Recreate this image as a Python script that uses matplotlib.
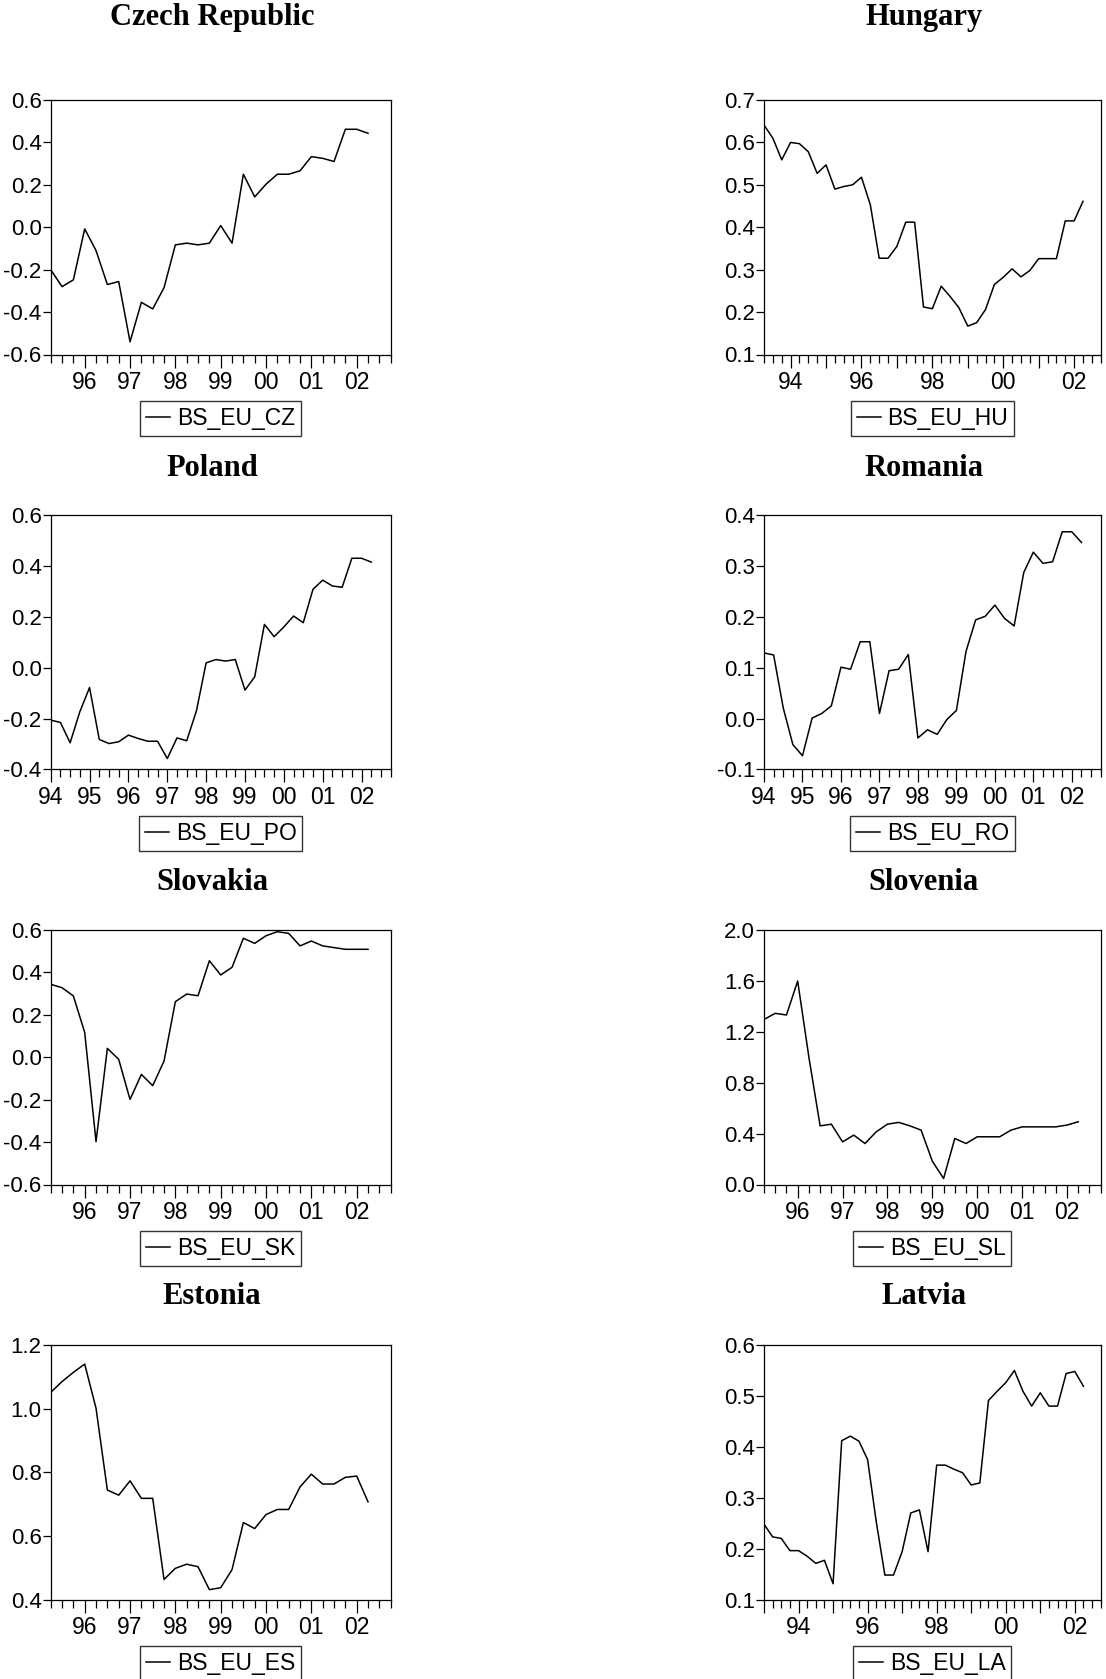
import matplotlib
matplotlib.use("Agg")
import matplotlib.pyplot as plt
import numpy as np
import pandas as pd
from matplotlib.ticker import FixedLocator, FuncFormatter

plt.rcParams['axes.unicode_minus'] = False

# quarterly series, values
cz_start = '1995Q2'
bs_eu_cz = [-0.20, -0.28, -0.248, -0.008, -0.11, -0.27, -0.256, -0.54, -0.354, -0.385,
            -0.285, -0.083, -0.075, -0.083, -0.075, 0.008, -0.075, 0.25, 0.143, 0.203,
            0.25, 0.25, 0.266, 0.333, 0.325, 0.31, 0.462, 0.462, 0.443]

hu_start = '1993Q2'
bs_eu_hu = [0.641, 0.610, 0.559, 0.600, 0.597, 0.578, 0.527, 0.547, 0.490, 0.496,
            0.500, 0.518, 0.453, 0.327, 0.327, 0.355, 0.412, 0.412, 0.212, 0.208,
            0.261, 0.237, 0.210, 0.167, 0.175, 0.206, 0.265, 0.282, 0.302, 0.283,
            0.298, 0.326, 0.326, 0.326, 0.415, 0.415, 0.461]

po_start = '1994Q1'
bs_eu_po = [-0.206, -0.215, -0.295, -0.173, -0.078, -0.282, -0.298, -0.291, -0.265, -0.278,
            -0.289, -0.289, -0.357, -0.276, -0.287, -0.170, 0.019, 0.032, 0.026, 0.032,
            -0.088, -0.036, 0.170, 0.122, 0.160, 0.203, 0.177, 0.308, 0.344, 0.321,
            0.316, 0.430, 0.430, 0.415]

ro_start = '1994Q1'
bs_eu_ro = [0.129, 0.125, 0.021, -0.051, -0.073, 0.001, 0.010, 0.025, 0.101, 0.097,
            0.151, 0.151, 0.010, 0.094, 0.097, 0.126, -0.038, -0.022, -0.031, -0.002,
            0.016, 0.132, 0.194, 0.201, 0.223, 0.197, 0.182, 0.287, 0.327, 0.305,
            0.308, 0.367, 0.367, 0.346]

sk_start = '1995Q2'
bs_eu_sk = [0.344, 0.328, 0.289, 0.117, -0.398, 0.042, -0.010, -0.199, -0.081, -0.134,
            -0.018, 0.262, 0.298, 0.290, 0.455, 0.388, 0.424, 0.561, 0.537, 0.573,
            0.592, 0.584, 0.525, 0.548, 0.525, 0.517, 0.509, 0.509, 0.509]

sl_start = '1995Q2'
bs_eu_sl = [1.297, 1.345, 1.332, 1.599, 1.00, 0.461, 0.474, 0.335, 0.388, 0.322,
            0.414, 0.474, 0.488, 0.461, 0.427, 0.183, 0.047, 0.362, 0.322, 0.375,
            0.375, 0.375, 0.427, 0.453, 0.453, 0.453, 0.453, 0.467, 0.493]

es_start = '1995Q2'
bs_eu_es = [1.051, 1.085, 1.114, 1.140, 1.001, 0.744, 0.728, 0.773, 0.718, 0.718,
            0.463, 0.498, 0.511, 0.503, 0.431, 0.437, 0.494, 0.642, 0.623, 0.667,
            0.683, 0.683, 0.754, 0.794, 0.763, 0.763, 0.784, 0.788, 0.707]

la_start = '1993Q1'
bs_eu_la = [0.248, 0.223, 0.220, 0.196, 0.196, 0.185, 0.171, 0.177, 0.131, 0.412,
            0.421, 0.411, 0.375, 0.253, 0.148, 0.148, 0.194, 0.270, 0.276, 0.194,
            0.364, 0.364, 0.356, 0.349, 0.325, 0.329, 0.491, 0.509, 0.526, 0.550,
            0.509, 0.480, 0.506, 0.480, 0.480, 0.544, 0.548, 0.519]

titles = ['Czech Republic', 'Hungary', 'Poland', 'Romania',
          'Slovakia', 'Slovenia', 'Estonia', 'Latvia']
names = ['BS_EU_CZ', 'BS_EU_HU', 'BS_EU_PO', 'BS_EU_RO',
         'BS_EU_SK', 'BS_EU_SL', 'BS_EU_ES', 'BS_EU_LA']
series = [bs_eu_cz, bs_eu_hu, bs_eu_po, bs_eu_ro, bs_eu_sk, bs_eu_sl, bs_eu_es, bs_eu_la]
starts = [cz_start, hu_start, po_start, ro_start, sk_start, sl_start, es_start, la_start]
yticks = [(-0.6, 0.6, 0.2), (0.1, 0.7, 0.1), (-0.4, 0.6, 0.2), (-0.1, 0.4, 0.1),
          (-0.6, 0.6, 0.2), (0.0, 2.0, 0.4), (0.4, 1.2, 0.2), (0.1, 0.6, 0.1)]
label_step = [1, 2, 1, 1, 1, 1, 1, 2]

W, H = 1106, 1679
fig = plt.figure(figsize=(W / 100, H / 100), dpi=100)

col_x = [(50.7, 390.7), (764, 1100.7)]
row_top = [100, 515, 930, 1345]
ax_h = 254.5
title_y = [17, 468, 882, 1297]
title_x = [212, 924]

sans = 'Liberation Sans'
serif = 'Liberation Serif'


def quarters(start, n):
    p = pd.period_range(start, periods=n, freq='Q')
    return np.array([x.year + (x.quarter - 1) / 4 for x in p])


def year_fmt(step):
    def f(v, pos):
        y = int(round(v))
        return '%02d' % (y % 100) if y % step == 0 else ''
    return FuncFormatter(f)


for k in range(8):
    r, c = divmod(k, 2)
    l, rr = col_x[c]
    t = row_top[r]
    b = t + ax_h
    ax = fig.add_axes([l / W, 1 - b / H, (rr - l) / W, ax_h / H])

    x = quarters(starts[k], len(series[k]))
    ax.plot(x, series[k], color='black', lw=1.1, label=names[k])

    x0 = x[0]
    ax.set_xlim(x0, 2002.75)
    lo, hi, st = yticks[k]
    ax.set_ylim(lo, hi)
    yt = np.round(np.arange(lo, hi + st / 2, st), 2)
    ax.yaxis.set_major_locator(FixedLocator(yt))
    ax.yaxis.set_major_formatter(FuncFormatter(lambda v, p: '%.1f' % v))

    years = [y for y in range(1993, 2003) if y >= x0]
    ax.xaxis.set_major_locator(FixedLocator(years))
    ax.xaxis.set_major_formatter(year_fmt(label_step[k]))
    minor = [q for q in np.arange(np.ceil(x0 * 4) / 4, 2002.76, 0.25) if q % 1 != 0]
    ax.xaxis.set_minor_locator(FixedLocator(minor))

    ax.tick_params(axis='y', which='major', direction='out', length=6, width=0.9,
                   labelsize=16, pad=0.5, right=False)
    ax.tick_params(axis='x', which='major', direction='out', length=9, width=0.9,
                   labelsize=16.5, pad=3, top=False)
    ax.tick_params(axis='x', which='minor', direction='out', length=6, width=0.9,
                   top=False)
    for lab in ax.get_xticklabels() + ax.get_yticklabels():
        lab.set_fontfamily(sans)
    for s in ax.spines.values():
        s.set_linewidth(0.9)

    cx = (l + rr) / 2
    leg = ax.legend(loc='center', bbox_to_anchor=(cx / W, 1 - (b + 64) / H),
                    bbox_transform=fig.transFigure, frameon=True, fancybox=False,
                    prop={'family': sans, 'size': 16.5}, handlelength=1.05,
                    handletextpad=0.3, borderpad=0.25, borderaxespad=0)
    leg.get_frame().set_edgecolor('black')
    leg.get_frame().set_linewidth(1.0)

    fig.text(title_x[c] / W, 1 - title_y[r] / H, titles[k], ha='center', va='center',
             fontsize=22, fontweight='bold', family=serif)

fig.savefig('out.png', dpi=100)
